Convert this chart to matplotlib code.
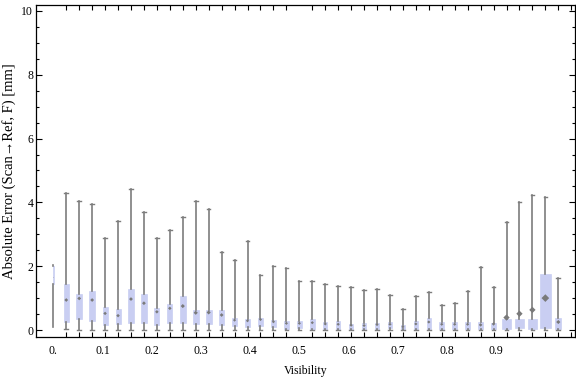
import matplotlib
matplotlib.use("Agg")
import matplotlib.pyplot as plt
import numpy as np

plt.rcParams['font.family'] = ['Liberation Serif', 'DejaVu Serif']

# ---- data ----
tick_labels = ["0.", "0.1", "0.2", "0.3", "0.4", "0.5", "0.6", "0.7", "0.8", "0.9"]
whis_low = [0.10, 0.03] + [0.0] * 38
whis_high = [2.05, 4.29, 4.03, 3.95, 2.87, 3.42, 4.41, 3.70, 2.87, 3.13,
             3.53, 4.03, 3.78, 2.44, 2.18, 2.78, 1.71, 2.00, 1.93, 1.54,
             1.54, 1.44, 1.37, 1.34, 1.24, 1.28, 1.09, 0.65, 1.06, 1.18,
             0.77, 0.84, 1.21, 1.97, 1.35, 3.39, 4.01, 4.23, 4.16, 1.62]
q3 = [2.00, 1.43, 1.13, 1.22, 0.71, 0.65, 1.29, 1.13, 0.69, 0.82,
      1.07, 0.63, 0.63, 0.63, 0.39, 0.35, 0.39, 0.31, 0.28, 0.28,
      0.34, 0.25, 0.28, 0.19, 0.22, 0.23, 0.25, 0.17, 0.28, 0.38,
      0.25, 0.25, 0.25, 0.25, 0.22, 0.34, 0.34, 0.34, 1.76, 0.38]
q1 = [1.45, 0.25, 0.33, 0.27, 0.15, 0.20, 0.23, 0.23, 0.17, 0.21,
      0.23, 0.19, 0.19, 0.16, 0.14, 0.10, 0.14, 0.09, 0.04, 0.07,
      0.04, 0.04, 0.04, 0.02, 0.02, 0.03, 0.06, 0.02, 0.03, 0.03,
      0.04, 0.04, 0.04, 0.02, 0.03, 0.04, 0.07, 0.04, 0.07, 0.03]
means = [1.65, 0.94, 0.99, 0.94, 0.52, 0.45, 0.97, 0.84, 0.57, 0.68,
         0.75, 0.54, 0.55, 0.47, 0.31, 0.29, 0.33, 0.26, 0.21, 0.21,
         0.23, 0.19, 0.18, 0.15, 0.14, 0.17, 0.18, 0.10, 0.19, 0.25,
         0.18, 0.18, 0.18, 0.16, 0.19, 0.39, 0.51, 0.63, 1.00, 0.25]
# relative box widths (fraction of category spacing)
box_rel_width = [0.08, 0.42, 0.42, 0.42, 0.39, 0.39, 0.42, 0.42, 0.39, 0.39,
                 0.46, 0.46, 0.46, 0.42, 0.35, 0.35, 0.35, 0.35, 0.35, 0.35,
                 0.35, 0.35, 0.35, 0.35, 0.35, 0.35, 0.35, 0.35, 0.35, 0.35,
                 0.35, 0.35, 0.35, 0.39, 0.39, 0.70, 0.70, 0.70, 0.85, 0.46]

n = len(q1)
pos = np.arange(n)

fig = plt.figure(figsize=(5.76, 3.77), dpi=100)
ax = fig.add_axes([36 / 576, 1 - 336.7 / 377, 539 / 576, 332 / 377])

box_color = '#c9cef2'
whisk_color = '#7d7d7d'

stats = []
for i in range(n):
    stats.append(dict(whislo=whis_low[i], q1=q1[i], med=means[i], q3=q3[i],
                      whishi=whis_high[i], mean=means[i], fliers=[]))

art = ax.bxp(stats, positions=pos, widths=box_rel_width, patch_artist=True,
             showmeans=False, showfliers=False, capwidths=0.28,
             boxprops=dict(facecolor=box_color, edgecolor=box_color, linewidth=0.5),
             whiskerprops=dict(color=whisk_color, linewidth=1.2),
             capprops=dict(color=whisk_color, linewidth=1.0),
             medianprops=dict(linewidth=0, color=box_color), manage_ticks=False)
# first bin: no caps
art['caps'][0].set_visible(False)
art['caps'][1].set_visible(False)

sizes = [(w * 4.6) ** 2 for w in box_rel_width]
ax.scatter(pos, means, s=sizes, marker='D', color='#7a7a7a', zorder=5,
           linewidths=0)

ax.set_xlim(-1.336, 40.29)
ax.set_ylim(-0.21, 10.197)

# y ticks
ax.set_yticks(np.arange(0, 11, 2))
ax.set_yticklabels([str(v) for v in range(0, 11, 2)])
ax.set_yticks(np.arange(0, 10.01, 0.5), minor=True)
ax.tick_params(axis='y', which='major', direction='in', length=4.5, width=0.8,
               right=True, labelsize=8.5, pad=2)
ax.tick_params(axis='y', which='minor', direction='in', length=2.5, width=0.8,
               right=True)

# x ticks: minor at each box, labels along the axis
ax.set_xticks(np.arange(0, 41), minor=True)
ax.set_xticks(np.arange(len(tick_labels)) * 3.8)
ax.set_xticklabels(tick_labels)
ax.tick_params(axis='x', which='major', length=0, labelsize=8.5, pad=6)
ax.tick_params(axis='x', which='minor', direction='in', length=3.5, width=0.8,
               top=True)

for s in ax.spines.values():
    s.set_linewidth(0.9)

ax.set_xlabel("Visibility", fontsize=8.5, labelpad=6)
ax.set_ylabel("Absolute Error (Scan\u2192Ref, F) [mm]", fontsize=10.5, labelpad=4)

fig.savefig("out.png", dpi=100)
